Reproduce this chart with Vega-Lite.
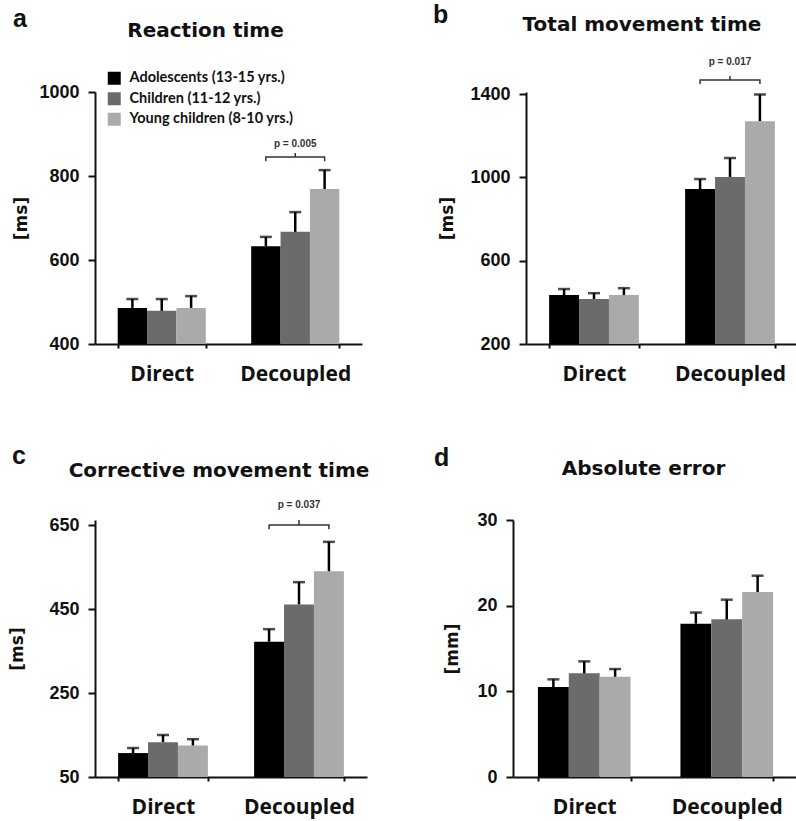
{
  "$schema": "https://vega.github.io/schema/vega-lite/v6.json",
  "background": "white",
  "padding": {"left": 8, "top": 3, "right": 0, "bottom": 6},
  "config": {
    "view": {"stroke": null},
    "font": "Liberation Sans",
    "title": {"font": "DejaVu Sans", "fontSize": 20, "fontWeight": "bold", "color": "#111111", "anchor": "middle", "frame": "group", "baseline": "alphabetic"},
    "axis": {"domainColor": "#111111", "domainWidth": 2, "tickColor": "#111111", "tickWidth": 2, "grid": false, "labelColor": "#111111", "titleColor": "#111111"},
    "axisX": {"labelFont": "Open Sans", "labelFontSize": 21, "labelFontWeight": "bold", "tickSize": 4, "labelPadding": 15, "tickBand": "extent", "labelAngle": 0},
    "axisY": {"labelFont": "Liberation Sans", "labelFontSize": 18, "labelFontWeight": "bold", "tickSize": 7, "labelPadding": 9, "format": "d", "titleFont": "DejaVu Sans", "titleFontSize": 17, "titleFontWeight": "bold", "titlePadding": 6},
    "legend": {"labelFont": "Lato", "labelFontSize": 14.5, "labelFontWeight": "bold", "labelColor": "#111111", "labelLimit": 400, "symbolType": "square", "symbolSize": 169, "symbolStrokeWidth": 0, "symbolOpacity": 1, "rowPadding": 5.5, "labelOffset": 8, "padding": 0}
  },
  "datasets": {
    "a": [
      {"cond": "Direct", "group": "Adolescents (13-15 yrs.)", "value": 486, "upper": 507},
      {"cond": "Direct", "group": "Children (11-12 yrs.)", "value": 479, "upper": 507},
      {"cond": "Direct", "group": "Young children (8-10 yrs.)", "value": 486, "upper": 514},
      {"cond": "Decoupled", "group": "Adolescents (13-15 yrs.)", "value": 633, "upper": 655},
      {"cond": "Decoupled", "group": "Children (11-12 yrs.)", "value": 667, "upper": 714},
      {"cond": "Decoupled", "group": "Young children (8-10 yrs.)", "value": 769, "upper": 814}
    ],
    "a_br": [
      {"cond": "Decoupled", "group": "Adolescents (13-15 yrs.)", "seq": 1, "value": 835},
      {"cond": "Decoupled", "group": "Adolescents (13-15 yrs.)", "seq": 2, "value": 845},
      {"cond": "Decoupled", "group": "Children (11-12 yrs.)", "seq": 3, "value": 845},
      {"cond": "Decoupled", "group": "Children (11-12 yrs.)", "seq": 4, "value": 855},
      {"cond": "Decoupled", "group": "Children (11-12 yrs.)", "seq": 5, "value": 845},
      {"cond": "Decoupled", "group": "Young children (8-10 yrs.)", "seq": 6, "value": 845},
      {"cond": "Decoupled", "group": "Young children (8-10 yrs.)", "seq": 7, "value": 835}
    ],
    "a_p": [{"cond": "Decoupled", "group": "Children (11-12 yrs.)", "value": 876, "label": "p = 0.005"}],
    "b": [
      {"cond": "Direct", "group": "Adolescents (13-15 yrs.)", "value": 435, "upper": 464},
      {"cond": "Direct", "group": "Children (11-12 yrs.)", "value": 416, "upper": 444},
      {"cond": "Direct", "group": "Young children (8-10 yrs.)", "value": 435, "upper": 468},
      {"cond": "Decoupled", "group": "Adolescents (13-15 yrs.)", "value": 944, "upper": 992},
      {"cond": "Decoupled", "group": "Children (11-12 yrs.)", "value": 1002, "upper": 1093},
      {"cond": "Decoupled", "group": "Young children (8-10 yrs.)", "value": 1270, "upper": 1398}
    ],
    "b_br": [
      {"cond": "Decoupled", "group": "Adolescents (13-15 yrs.)", "seq": 1, "value": 1449},
      {"cond": "Decoupled", "group": "Adolescents (13-15 yrs.)", "seq": 2, "value": 1468},
      {"cond": "Decoupled", "group": "Children (11-12 yrs.)", "seq": 3, "value": 1468},
      {"cond": "Decoupled", "group": "Children (11-12 yrs.)", "seq": 4, "value": 1487},
      {"cond": "Decoupled", "group": "Children (11-12 yrs.)", "seq": 5, "value": 1468},
      {"cond": "Decoupled", "group": "Young children (8-10 yrs.)", "seq": 6, "value": 1468},
      {"cond": "Decoupled", "group": "Young children (8-10 yrs.)", "seq": 7, "value": 1449}
    ],
    "b_p": [{"cond": "Decoupled", "group": "Children (11-12 yrs.)", "value": 1554, "label": "p = 0.017"}],
    "c": [
      {"cond": "Direct", "group": "Adolescents (13-15 yrs.)", "value": 107, "upper": 119},
      {"cond": "Direct", "group": "Children (11-12 yrs.)", "value": 133, "upper": 150},
      {"cond": "Direct", "group": "Young children (8-10 yrs.)", "value": 125, "upper": 140},
      {"cond": "Decoupled", "group": "Adolescents (13-15 yrs.)", "value": 372, "upper": 402},
      {"cond": "Decoupled", "group": "Children (11-12 yrs.)", "value": 461, "upper": 514},
      {"cond": "Decoupled", "group": "Young children (8-10 yrs.)", "value": 540, "upper": 610}
    ],
    "c_br": [
      {"cond": "Decoupled", "group": "Adolescents (13-15 yrs.)", "seq": 1, "value": 640},
      {"cond": "Decoupled", "group": "Adolescents (13-15 yrs.)", "seq": 2, "value": 650},
      {"cond": "Decoupled", "group": "Children (11-12 yrs.)", "seq": 3, "value": 650},
      {"cond": "Decoupled", "group": "Children (11-12 yrs.)", "seq": 4, "value": 662},
      {"cond": "Decoupled", "group": "Children (11-12 yrs.)", "seq": 5, "value": 650},
      {"cond": "Decoupled", "group": "Young children (8-10 yrs.)", "seq": 6, "value": 650},
      {"cond": "Decoupled", "group": "Young children (8-10 yrs.)", "seq": 7, "value": 640}
    ],
    "c_p": [{"cond": "Decoupled", "group": "Children (11-12 yrs.)", "value": 698, "label": "p = 0.037"}],
    "d": [
      {"cond": "Direct", "group": "Adolescents (13-15 yrs.)", "value": 10.5, "upper": 11.4},
      {"cond": "Direct", "group": "Children (11-12 yrs.)", "value": 12.1, "upper": 13.5},
      {"cond": "Direct", "group": "Young children (8-10 yrs.)", "value": 11.7, "upper": 12.6},
      {"cond": "Decoupled", "group": "Adolescents (13-15 yrs.)", "value": 17.9, "upper": 19.2},
      {"cond": "Decoupled", "group": "Children (11-12 yrs.)", "value": 18.4, "upper": 20.7},
      {"cond": "Decoupled", "group": "Young children (8-10 yrs.)", "value": 21.6, "upper": 23.5}
    ]
  },
  "resolve": {"scale": {"x": "independent", "y": "independent", "xOffset": "independent"}},
  "bounds": "flush",
  "spacing": 428,
  "vconcat": [
    {
      "bounds": "flush",
      "spacing": 431,
      "resolve": {"scale": {"x": "independent", "y": "independent", "xOffset": "independent"}},
      "hconcat": [
        {
          "title": {"text": "a", "anchor": "start", "frame": "bounds", "font": "Liberation Sans", "fontSize": 25, "fontWeight": "bold", "offset": -11, "dx": 0},
          "bounds": "flush",
          "vconcat": [
            {
              "width": 267, "height": 252,
              "title": {"text": "Reaction time", "dx": -23, "offset": 42},
              "encoding": {
                "x": {"field": "cond", "type": "nominal", "title": null, "scale": {"domain": ["Direct", "Decoupled"], "paddingInner": 0.34, "paddingOuter": 0.17}},
                "xOffset": {"field": "group", "type": "nominal", "scale": {"domain": ["Adolescents (13-15 yrs.)", "Children (11-12 yrs.)", "Young children (8-10 yrs.)"], "paddingInner": 0, "paddingOuter": 0}},
                "y": {"field": "value", "type": "quantitative", "title": "[ms]", "scale": {"domain": [400, 1000], "nice": false, "zero": false}, "axis": {"values": [400, 600, 800, 1000], "titlePadding": 8}}
              },
              "layer": [
                {
                  "data": {"name": "a"},
                  "mark": {"type": "bar"},
                  "encoding": {
                    "y2": {"datum": 400},
                    "color": {"field": "group", "type": "nominal", "scale": {"domain": ["Adolescents (13-15 yrs.)", "Children (11-12 yrs.)", "Young children (8-10 yrs.)"], "range": ["#000000", "#6b6b6b", "#aaaaaa"]}, "legend": {"title": null, "orient": "none", "legendX": 12, "legendY": -21}}
                  }
                },
                {"data": {"name": "a"}, "mark": {"type": "rule", "strokeWidth": 2.5, "color": "#000000"}, "encoding": {"y2": {"field": "upper"}}},
                {"data": {"name": "a"}, "mark": {"type": "tick", "orient": "horizontal", "size": 12, "thickness": 2.5, "color": "#000000"}, "encoding": {"y": {"field": "upper", "type": "quantitative", "title": "[ms]"}}},
                {"data": {"name": "a_br"}, "mark": {"type": "line", "strokeWidth": 1.5, "color": "#333333"}, "encoding": {"order": {"field": "seq", "type": "quantitative"}}},
                {"data": {"name": "a_p"}, "mark": {"type": "text", "font": "Liberation Sans", "fontWeight": "bold", "fontSize": 10, "color": "#333333", "baseline": "middle"}, "encoding": {"text": {"field": "label"}}}
              ]
            }
          ]
        },
        {
          "title": {"text": "b", "anchor": "start", "frame": "bounds", "font": "Liberation Sans", "fontSize": 25, "fontWeight": "bold", "offset": -13, "dx": -6},
          "bounds": "flush",
          "vconcat": [
            {
              "width": 272, "height": 252,
              "title": {"text": "Total movement time", "dx": -20, "offset": 22},
              "encoding": {
                "x": {"field": "cond", "type": "nominal", "title": null, "scale": {"domain": ["Direct", "Decoupled"], "paddingInner": 0.34, "paddingOuter": 0.17}},
                "xOffset": {"field": "group", "type": "nominal", "scale": {"domain": ["Adolescents (13-15 yrs.)", "Children (11-12 yrs.)", "Young children (8-10 yrs.)"], "paddingInner": 0, "paddingOuter": 0}},
                "y": {"field": "value", "type": "quantitative", "title": "[ms]", "scale": {"domain": [200, 1410], "nice": false, "zero": false}, "axis": {"values": [200, 600, 1000, 1400], "titlePadding": 13}}
              },
              "layer": [
                {
                  "data": {"name": "b"},
                  "mark": {"type": "bar"},
                  "encoding": {
                    "y2": {"datum": 200},
                    "color": {"field": "group", "type": "nominal", "scale": {"domain": ["Adolescents (13-15 yrs.)", "Children (11-12 yrs.)", "Young children (8-10 yrs.)"], "range": ["#000000", "#6b6b6b", "#aaaaaa"]}}
                  }
                },
                {"data": {"name": "b"}, "mark": {"type": "rule", "strokeWidth": 2.5, "color": "#000000"}, "encoding": {"y2": {"field": "upper"}}},
                {"data": {"name": "b"}, "mark": {"type": "tick", "orient": "horizontal", "size": 12, "thickness": 2.5, "color": "#000000"}, "encoding": {"y": {"field": "upper", "type": "quantitative", "title": "[ms]"}}},
                {"data": {"name": "b_br"}, "mark": {"type": "line", "strokeWidth": 1.5, "color": "#333333"}, "encoding": {"order": {"field": "seq", "type": "quantitative"}}},
                {"data": {"name": "b_p"}, "mark": {"type": "text", "font": "Liberation Sans", "fontWeight": "bold", "fontSize": 10, "color": "#333333", "baseline": "middle"}, "encoding": {"text": {"field": "label"}}}
              ]
            }
          ]
        }
      ]
    },
    {
      "bounds": "flush",
      "spacing": 418,
      "resolve": {"scale": {"x": "independent", "y": "independent", "xOffset": "independent"}},
      "hconcat": [
        {
          "title": {"text": "c", "anchor": "start", "frame": "bounds", "font": "Liberation Sans", "fontSize": 25, "fontWeight": "bold", "offset": -8, "dx": 3.5},
          "bounds": "flush",
          "vconcat": [
            {
              "width": 272, "height": 257,
              "title": {"text": "Corrective movement time", "dx": -12, "offset": 19},
              "encoding": {
                "x": {"field": "cond", "type": "nominal", "title": null, "scale": {"domain": ["Direct", "Decoupled"], "paddingInner": 0.34, "paddingOuter": 0.17}},
                "xOffset": {"field": "group", "type": "nominal", "scale": {"domain": ["Adolescents (13-15 yrs.)", "Children (11-12 yrs.)", "Young children (8-10 yrs.)"], "paddingInner": 0, "paddingOuter": 0}},
                "y": {"field": "value", "type": "quantitative", "title": "[ms]", "scale": {"domain": [50, 662], "nice": false, "zero": false}, "axis": {"values": [50, 250, 450, 650], "titlePadding": 22.5}}
              },
              "layer": [
                {
                  "data": {"name": "c"},
                  "mark": {"type": "bar"},
                  "encoding": {
                    "y2": {"datum": 50},
                    "color": {"field": "group", "type": "nominal", "scale": {"domain": ["Adolescents (13-15 yrs.)", "Children (11-12 yrs.)", "Young children (8-10 yrs.)"], "range": ["#000000", "#6b6b6b", "#aaaaaa"]}}
                  }
                },
                {"data": {"name": "c"}, "mark": {"type": "rule", "strokeWidth": 2.5, "color": "#000000"}, "encoding": {"y2": {"field": "upper"}}},
                {"data": {"name": "c"}, "mark": {"type": "tick", "orient": "horizontal", "size": 12, "thickness": 2.5, "color": "#000000"}, "encoding": {"y": {"field": "upper", "type": "quantitative", "title": "[ms]"}}},
                {"data": {"name": "c_br"}, "mark": {"type": "line", "strokeWidth": 1.5, "color": "#333333"}, "encoding": {"order": {"field": "seq", "type": "quantitative"}}},
                {"data": {"name": "c_p"}, "mark": {"type": "text", "font": "Liberation Sans", "fontWeight": "bold", "fontSize": 10, "color": "#333333", "baseline": "middle"}, "encoding": {"text": {"field": "label"}}}
              ]
            }
          ]
        },
        {
          "title": {"text": "d", "anchor": "start", "frame": "bounds", "font": "Liberation Sans", "fontSize": 25, "fontWeight": "bold", "offset": -12, "dx": -9.5},
          "bounds": "flush",
          "vconcat": [
            {
              "width": 285, "height": 257,
              "title": {"text": "Absolute error", "dx": -12, "offset": 32},
              "encoding": {
                "x": {"field": "cond", "type": "nominal", "title": null, "scale": {"domain": ["Direct", "Decoupled"], "paddingInner": 0.35, "paddingOuter": 0.175}},
                "xOffset": {"field": "group", "type": "nominal", "scale": {"domain": ["Adolescents (13-15 yrs.)", "Children (11-12 yrs.)", "Young children (8-10 yrs.)"], "paddingInner": 0, "paddingOuter": 0}},
                "y": {"field": "value", "type": "quantitative", "title": "[mm]", "scale": {"domain": [0, 30], "nice": false}, "axis": {"values": [0, 10, 20, 30], "titlePadding": 15.5}}
              },
              "layer": [
                {
                  "data": {"name": "d"},
                  "mark": {"type": "bar"},
                  "encoding": {
                    "y2": {"datum": 0},
                    "color": {"field": "group", "type": "nominal", "scale": {"domain": ["Adolescents (13-15 yrs.)", "Children (11-12 yrs.)", "Young children (8-10 yrs.)"], "range": ["#000000", "#6b6b6b", "#aaaaaa"]}}
                  }
                },
                {"data": {"name": "d"}, "mark": {"type": "rule", "strokeWidth": 2.5, "color": "#000000"}, "encoding": {"y2": {"field": "upper"}}},
                {"data": {"name": "d"}, "mark": {"type": "tick", "orient": "horizontal", "size": 12, "thickness": 2.5, "color": "#000000"}, "encoding": {"y": {"field": "upper", "type": "quantitative", "title": "[mm]"}}}
              ]
            }
          ]
        }
      ]
    }
  ]
}
